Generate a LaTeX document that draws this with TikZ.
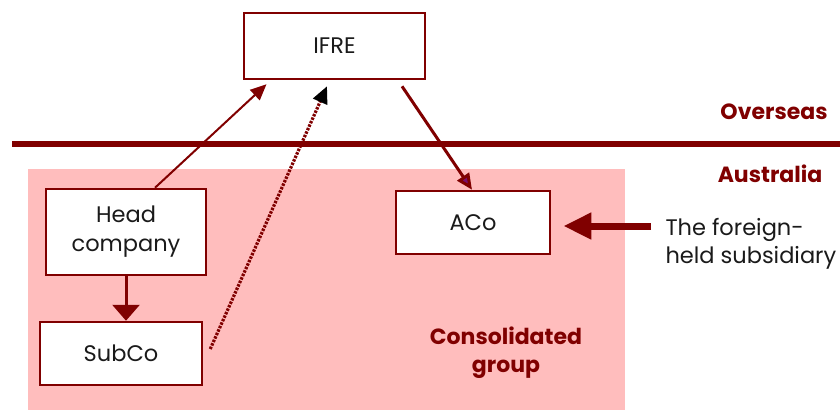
\documentclass[tikz,border=0pt]{standalone}
\usepackage{fontspec}
\setmainfont{Poppins}
\usetikzlibrary{arrows.meta}
\definecolor{dred}{HTML}{800000}
\definecolor{pinkbg}{HTML}{FFBDBD}
\definecolor{tcol}{HTML}{1A1A1A}
\definecolor{purp}{HTML}{7A0F6E}
\begin{document}
\begin{tikzpicture}[x=1pt,y=-1pt,
  box/.style={draw=dred,line width=2.5pt,fill=white,inner sep=0pt},
  lbl/.style={font=\fontsize{22.5}{29}\selectfont,text=tcol},
  blbl/.style={font=\bfseries\fontsize{22}{28}\selectfont,text=dred},
  conn/.style={draw=dred}]
\useasboundingbox (0,0) rectangle (840,410);
\fill[pinkbg] (28,169) rectangle (625,410);
\draw[dred,line width=6pt] (12,144) -- (840,144);
\node[box,lbl,minimum width=181pt,minimum height=66pt] (ifre) at (334.5,46) {IFRE};
\node[box,lbl,minimum width=160pt,minimum height=86pt,align=center] (head) at (126,232) {Head\\company};
\node[box,lbl,minimum width=162pt,minimum height=63pt] (subco) at (121,353.5) {SubCo};
\node[box,lbl,minimum width=154pt,minimum height=63pt] (aco) at (473,222.5) {ACo};
\node[lbl,align=left,anchor=west,font=\fontsize{22.5}{28}\selectfont] (fhs) at (662,244) {The foreign-\\held subsidiary};
\node[blbl] (over) at (774,112) {Overseas};
\node[blbl] (aus) at (770,174) {Australia};
\node[blbl,align=center] (cons) at (506,353) {Consolidated\\group};
% arrows
\draw[conn,line width=3pt,-{Triangle[width=27pt,length=16pt]}] (head.south) -- (head.south |- subco.north);
\draw[conn,line width=2pt,-{Triangle[width=14pt,length=16pt]}] ([xshift=29pt]head.north) -- ([xshift=-68pt,yshift=-4pt]ifre.south);
\draw[conn,line width=3.2pt,dash pattern=on 2.5pt off 1.3pt,-{Triangle[width=15pt,length=17pt,color=black]}] ([xshift=7pt,yshift=4.5pt]subco.east) -- ([xshift=-7.5pt,yshift=-6pt]ifre.south);
\draw[conn,line width=3pt,-{Triangle[width=14pt,length=16pt,fill=purp]}] ([xshift=67.5pt,yshift=-6pt]ifre.south) -- ([xshift=-1pt]aco.north);
\draw[conn,line width=7pt,-{Triangle[width=25pt,length=28pt]}] ([xshift=-11pt,yshift=18pt]fhs.west) -- ([xshift=12pt,yshift=-3.5pt]aco.east);
\end{tikzpicture}
\end{document}
